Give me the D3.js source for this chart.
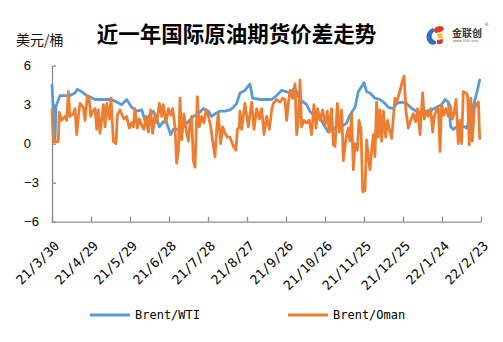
<!DOCTYPE html>
<html>
<head>
<meta charset="utf-8">
<script src="https://cdn.jsdelivr.net/npm/d3@7"></script>
<style>
  html, body { margin: 0; padding: 0; background: #fff; }
  svg { display: block; }
</style>
</head>
<body>
<svg id="chart" width="503" height="342"></svg>
<script>
// ---- data (day offsets counted from 2021-03-30) ----
const tickDays = [0, 30, 60, 90, 120, 150, 180, 210, 240, 270, 300, 330];
const tickLabels = ["21/3/30", "21/4/29", "21/5/29", "21/6/28", "21/7/28", "21/8/27",
                    "21/9/26", "21/10/26", "21/11/25", "21/12/25", "22/1/24", "22/2/23"];
const yTicks = [-6, -3, 0, 3, 6];

const wtiDays = [
  0, 1, 2.3, 3.1, 6.2, 10, 13.8, 17.7, 19.5, 22.8,
  26.7, 29.2, 33.1, 36.9, 42.1, 45.9, 49.7, 53.6, 57.4, 61.3,
  65.1, 69, 71.5, 75.4, 77.9, 80.5, 82.6, 85.6, 88.2, 91.3,
  93.3, 97.2, 101, 104.9, 108.7, 112.6, 116.4, 120.3, 122.8, 125.4,
  129.2, 133.1, 136.9, 139.5, 142.1,
  144.6, 148.4, 152.3, 154.3, 160, 165.1, 169, 172.8, 176.6, 180.5,
  183.1, 186.9, 189.5, 193.3, 195.9, 198.4, 202.3, 206.1, 210, 212.5,
  216.4, 220.2, 224.1, 226.7, 229.2, 233.1, 235.6, 238.2, 240, 242,
  244.6, 248.4, 252.3, 256.1, 258.7, 262.5, 265.1, 269, 272.8, 276.7,
  280.5, 284.3, 288.2, 292, 295.9, 299.7, 302.3, 304.9, 306.7, 308.7,
  311.3, 315.1, 319, 322.8, 325.4, 327.2, 329
];
const wtiValues = [
  4.5, 2.6, 0.2, 2.9, 3.7, 3.7, 3.7, 3.9, 4.2, 4.0,
  3.7, 3.6, 3.4, 3.4, 3.4, 3.4, 3.2, 3.0, 3.4, 2.8,
  2.5, 2.6, 1.8, 2.2, 2.5, 2.0, 1.3, 1.7, 1.6, 0.7,
  1.1, 1.1, 1.3, 1.7, 2.1, 2.3, 2.7, 2.5, 2.1, 2.3,
  2.5, 2.5, 2.6, 2.8, 3.1,
  3.9, 4.1, 4.6, 3.5, 3.4, 3.4, 3.4, 3.7, 4.1, 4.0,
  3.9, 4.3, 3.6, 3.2, 3.0, 2.5, 2.1, 2.0, 1.3, 0.9,
  1.1, 1.4, 1.4, 1.6, 2.2, 2.8, 4.0, 4.4, 4.7, 4.0,
  3.9, 3.5, 3.4, 3.1, 2.8, 2.7, 3.1, 3.2, 3.1, 2.7,
  2.5, 2.3, 2.5, 2.6, 2.8, 3.0, 3.4, 3.2, 1.3, 1.1,
  1.3, 1.4, 1.2, 2.5, 3.4, 4.1, 4.9
];

const omanDays = [
  0, 1, 4.8, 5.6, 7.4, 10, 11.3, 12.6, 13.8, 16.4,
  17.7, 19, 20.3, 21.5, 24.1, 25.4, 27.2, 28.7, 29.7, 31.3,
  33.1, 34.4, 35.6, 36.9, 38.2, 39.5, 40.8, 42.1, 44.1, 45.4,
  47.2, 49.2, 50.3, 52.3, 53.6, 55.4, 57.4, 59.5, 61.3, 62.6,
  63.8, 65.6, 67.2, 69, 70.8, 72.3, 74.1, 75.9, 77.4, 79.2,
  80.5, 82.6, 84.4, 85.6, 87.7, 89.5, 91.3, 92.8, 94.6, 95.9,
  97.2, 98.5, 99.7, 101.5, 103.1, 104.9, 106.2, 107.4, 108.7, 110,
  111.8, 113.3, 115.1, 116.9, 118.5, 120.3, 122.1, 123.6, 125.4, 126.7,
  127.9, 129.7, 131.3, 133.1, 134.9, 136.9, 139.5, 141.5, 142.6, 144.1,
  144.6, 145.9, 148.4, 151.0, 153.6, 155.4, 157.4, 159.5, 161.3, 163.1,
  165.1, 167.2, 169.0, 170.2, 172.8, 175.4, 177.4, 179.2, 180.5, 181.8,
  183.1, 185.1, 186.9, 188.2, 189.5, 190.8, 192.0, 193.8, 195.9, 197.9,
  199.7, 201.5, 203.1, 204.3, 206.1, 208.2, 210.0, 211.8, 213.3, 215.1,
  216.4, 217.7, 219.5, 221.0, 222.8, 224.1, 226.1, 227.9, 229.2, 230.5,
  231.8, 233.1, 234.9, 236.1, 237.7, 239.0, 240.8, 242.0, 243.3, 244.6,
  245.9, 247.2, 248.4, 249.7, 251.0, 252.3, 253.6, 254.9, 256.7, 258.2,
  259.5, 261.3, 262.5, 263.8, 265.1, 267.2, 269.0, 270.8, 272.3, 274.1,
  275.9, 277.9, 279.7, 281.3, 283.1, 285.1, 286.4, 287.7, 289.5, 291.3,
  292.8, 294.1, 295.9, 297.2, 298.5, 299.7, 301.5, 303.1, 304.9, 306.2,
  307.9, 309.2, 310.8, 312.5, 313.8, 315.1, 316.4, 318.5, 319.7, 321.0,
  322.1, 323.3, 324.9, 326.7, 328.0, 329.0
];
const omanValues = [
  2.6, 0.15, 0.15, 2.4, 1.8, 2.1, 1.8, 4.0, 2.1, 2.3,
  2.7, 0.7, 2.1, 3.1, 2.8, 1.8, 3.7, 3.4, 2.1, 2.5,
  2.7, 1.1, 2.6, 0.8, 1.8, 3.0, 1.3, 3.1, 1.9, 3.5,
  0.2, 0.0, 2.2, 2.6, 2.3, 1.9, 2.1, 1.2, 1.6, 1.3,
  2.7, 1.2, 1.9, 1.4, 1.1, 2.1, 0.9, 2.6, 0.8, 2.2,
  1.6, 3.1, 2.1, 3.0, 1.6, 2.7, 2.2, 2.7, 1.3, -1.5,
  -0.5, 3.5, 0.3, 2.3, 1.1, 0.2, 1.6, 2.1, -1.3, -1.8,
  3.6, 1.3, 2.1, 1.6, 2.6, 2.1, 1.3, 0.2, -1.0, 1.1,
  2.3, 0.0, 1.3, 0.8, 0.5, 0.5, -0.2, -0.5, 1.1, 1.3,
  2.5, 1.1, 3.1, 1.3, 3.2, 1.1, 2.7, 1.9, 2.7, 0.7,
  2.1, 1.1, 2.6, 3.1, 3.4, 3.2, 3.5, 3.4, 1.8, 3.1,
  4.1, 3.5, 4.6, 0.7, 1.8, 4.9, 1.3, 1.8, 1.6, 1.8,
  0.7, 3.0, 1.2, 2.7, 1.8, 2.6, 1.4, 2.5, 0.9, 2.7,
  -0.1, -0.2, 3.1, 0.9, 2.6, -1.3, 0.4, 1.2, 0.2, 2.3,
  -2.0, 0.0, -0.5, 1.8, 1.1, -3.7, -3.6, 0.3, -1.0, -2.0,
  -0.5, 0.7, -1.0, 3.2, 0.5, 2.6, 0.2, 2.5, 0.5, 1.8,
  1.1, 0.4, 1.9, 3.5, 3.2, 3.9, 4.6, 5.2, 2.5, 1.2,
  1.8, 2.3, 1.7, 2.7, 0.7, 3.9, 1.9, 2.5, 2.1, 2.7,
  0.9, 2.1, 2.6, 2.7, -0.6, 3.0, 2.2, 2.7, 2.1, 3.0,
  1.9, 2.3, 3.4, 0.0, 1.8, 0.0, 4.0, 3.9, 3.7, -0.1,
  3.5, 0.2, 2.7, 3.1, 3.2, 0.4
];

const seriesNames = ["Brent/WTI", "Brent/Oman"];
const seriesColors = ["#5B9BD5", "#ED7D31"];

// ---- drawing ----
const svg = d3.select("#chart");
const x = d3.scaleLinear().domain([0, 330]).range([52, 481]);
const y = d3.scaleLinear().domain([-6, 6]).range([221.7, 65.7]);
const axisColor = "#8c8c8c";

// title
svg.append("text")
  .attr("x", 236.5).attr("y", 32)
  .attr("text-anchor", "middle").attr("dominant-baseline", "central")
  .style("font-family", "'Noto Sans CJK SC'").style("font-weight", "bold")
  .style("font-size", "21.5px").attr("fill", "#000")
  .text("近一年国际原油期货价差走势");

// unit
svg.append("text")
  .attr("x", 16).attr("y", 38.5)
  .attr("dominant-baseline", "central")
  .style("font-family", "'Noto Sans CJK SC'")
  .style("font-size", "14px").attr("fill", "#111")
  .text("美元/桶");

// logo
const logo = svg.append("g");
logo.append("path").attr("d", "M433,28 C426,31 424,39 430,44 C434,46 437,44 436,41 C431,40 430,34 435,31 Z").attr("fill", "#2f6fc4");
logo.append("path").attr("d", "M434,29 C437,25 444,25 444,29 C442,32 438,33 435,33 Z").attr("fill", "#e23a2c");
logo.append("path").attr("d", "M437,34 L442,33 L443,38 L438,38 Z").attr("fill", "#f2c21b");
logo.append("path").attr("d", "M437,40 L443,39 C444,43 441,45 437,44 Z").attr("fill", "#e23a2c");
logo.append("text").attr("x", 452).attr("y", 32).attr("dominant-baseline", "central")
  .style("font-family", "'Noto Sans CJK SC'").style("font-weight", "bold")
  .style("font-size", "10px").attr("fill", "#333").text("金联创");
logo.append("text").attr("x", 453).attr("y", 40.5).attr("dominant-baseline", "central")
  .style("font-family", "'DejaVu Sans'").style("font-size", "3.5px").attr("fill", "#666")
  .text("www.315i.com");
logo.append("text").attr("x", 484).attr("y", 23.5).attr("dominant-baseline", "central")
  .style("font-family", "'DejaVu Sans'").style("font-size", "5px").attr("fill", "#777").text("®");

// x axis
const xAxis = svg.append("g").attr("transform", "translate(0,221.7)")
  .call(d3.axisBottom(x).tickValues(tickDays).tickSize(-5).tickSizeOuter(0).tickFormat(""));
xAxis.select(".domain").attr("stroke", axisColor).attr("stroke-width", 1.3);
xAxis.selectAll(".tick line").attr("stroke", axisColor).attr("stroke-width", 1.3);

svg.append("g").selectAll("text").data(tickDays).join("text")
  .attr("transform", (d) => `translate(${x(d) + 1.5},240) rotate(-45)`)
  .attr("text-anchor", "end").attr("dy", "0.72em")
  .style("font-family", "'DejaVu Sans Mono'").style("font-size", "13px").attr("fill", "#000")
  .text((d, i) => tickLabels[i]);

// y axis
const yAxis = svg.append("g").attr("transform", "translate(52,0)")
  .call(d3.axisLeft(y).tickValues(yTicks).tickSize(-4).tickSizeOuter(0).tickPadding(13)
    .tickFormat((d) => d < 0 ? "\u2212" + Math.abs(d) : String(d)));
yAxis.select(".domain").attr("stroke", axisColor).attr("stroke-width", 1.3);
yAxis.selectAll(".tick line").attr("stroke", axisColor).attr("stroke-width", 1.3);
yAxis.selectAll(".tick text")
  .attr("dx", (d) => d < 0 ? 0 : -8)
  .style("font-family", "'Liberation Sans'").style("font-size", "13px").attr("fill", "#000");

// lines
const lineGen = d3.line().x((d) => x(d[0])).y((d) => y(d[1]));
const wtiData = wtiDays.map((d, i) => [d, wtiValues[i]]);
const omanData = omanDays.map((d, i) => [d, omanValues[i]]);
[wtiData, omanData].forEach((data, i) => {
  svg.append("path").datum(data)
    .attr("d", lineGen)
    .attr("fill", "none").attr("stroke", seriesColors[i])
    .attr("stroke-width", 2.8).attr("stroke-linejoin", "round").attr("stroke-linecap", "round");
});

// legend
const legendX = [90, 288];
seriesNames.forEach((name, i) => {
  svg.append("line").attr("x1", legendX[i]).attr("x2", legendX[i] + 40)
    .attr("y1", 315).attr("y2", 315)
    .attr("stroke", seriesColors[i]).attr("stroke-width", 3);
  svg.append("text").attr("x", legendX[i] + 45).attr("y", 315)
    .attr("dominant-baseline", "central")
    .style("font-family", "'DejaVu Sans Mono'").style("font-size", "12px").attr("fill", "#000")
    .text(name);
});
</script>
</body>
</html>
